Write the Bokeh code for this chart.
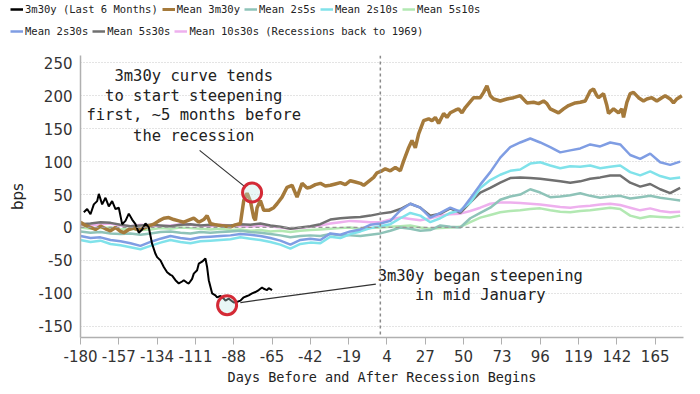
from bokeh.plotting import figure
from bokeh.models import Range1d, Span, Legend, LegendItem, FixedTicker
from bokeh.embed import file_html
from bokeh.resources import INLINE
from bokeh.core.properties import value

# ---------------- data ----------------
black_days = [-178, -176, -174, -172, -170, -169, -167, -165, -163, -161, -159, -157, -155, -153, -151,
              -149, -147, -145, -143, -141, -139, -137, -135, -134, -132, -130, -128, -126, -125, -123,
              -121, -119, -118, -116, -115, -113, -112, -110, -109, -107, -105, -104, -103, -101, -99,
              -98, -96, -94, -93, -91, -90, -88, -86, -84, -82, -80, -79, -77, -75, -73, -71, -70, -68,
              -67, -65]
black_vals = [23, 28, 20, 35, 40, 51, 35, 45, 32, 40, 28, 30, 5, 10, 21,
              12, 5, -8, -3, 6, 0, -25, -40, -45, -50, -60, -68, -72, -73, -80,
              -85, -82, -80, -84, -85, -78, -70, -65, -55, -52, -47, -60, -80, -100, -103,
              -106, -104, -108, -111, -108, -110, -114, -113, -111, -106, -104, -103, -100, -98, -95, -91, -93, -95,
              -92, -95]

brown_days = [-180, -177, -174, -171, -168, -165, -162, -159, -156, -154, -151, -148, -145, -142, -139,
              -136, -133, -130, -127, -124, -121, -118, -115, -112, -109, -106, -104, -102, -99, -96,
              -93, -90, -87, -84, -82, -80, -78, -76, -75, -74, -72, -70, -67, -64, -62, -59, -56, -53,
              -50, -47, -44, -42, -39, -36, -33, -30, -27, -24, -21, -18, -15, -12, -10, -7, -4, -2,
              1, 3, 6, 9, 12, 14, 17, 19, 21, 23, 26, 29, 31, 33, 35, 38, 40, 42, 45, 47, 49, 51, 53,
              56, 60, 62, 64, 66, 68, 72, 76, 80, 84, 88, 92, 95, 98, 100, 102, 107, 110, 113, 117,
              120, 123, 126, 128, 130, 131, 134, 136, 137, 140, 143, 145, 146, 148, 150, 152, 155, 158,
              160, 163, 166, 169, 171, 174, 176, 178, 181]
brown_vals = [8, 3, 0, -3, 2, -2, -5, 0, -6, -8, -3, -1, -4, -1, 2,
              5, 10, 14, 15, 12, 10, 8, 11, 14, 8, 12, 18, 6, 4, 3,
              2, 1, 4, 6, 41, 52, 40, 15, 11, 30, 41, 26, 26, 30, 36, 46, 61, 64,
              46, 67, 60, 61, 65, 67, 63, 64, 66, 68, 65, 71, 69, 67, 64, 70, 76, 83,
              86, 89, 86, 91, 86, 101, 121, 132, 121, 142, 162, 165, 162, 167, 158, 173, 167, 174, 178, 180, 174, 182, 188,
              197, 197, 205, 215, 200, 195, 192, 195, 197, 200, 189, 190, 188, 192, 188, 180, 174, 180, 185, 189,
              190, 192, 207, 210, 200, 197, 203, 185, 173, 180, 174, 180, 167, 190, 203, 205, 197, 192,
              195, 197, 192, 197, 200, 195, 189, 195, 200]

mean_days = [-180, -174, -168, -162, -156, -150, -144, -138, -132, -126, -120, -114, -108, -102, -96,
             -90, -84, -78, -72, -66, -60, -54, -48, -42, -36, -30, -24, -18, -12, -6,
             0, 6, 12, 18, 24, 30, 36, 42, 48, 54, 60, 66, 72, 78, 84,
             90, 96, 102, 108, 114, 120, 126, 132, 138, 144, 150, 156, 162, 168, 174, 180]

mean_2s5s = [-6, -8, -7, -9, -10, -9, -11, -9, -7, -6, -8, -9, -7, -8, -7,
             -6, -5, -7, -8, -10, -12, -15, -13, -12, -13, -10, -12, -12, -13, -11,
             -9, -5, 0, -2, -5, -4, 3, 1, 0, 14, 22, 30, 42, 47, 50,
             58, 53, 46, 47, 49, 52, 48, 45, 47, 48, 44, 46, 48, 45, 43, 41]
mean_2s10s = [-19, -22, -20, -25, -27, -30, -33, -28, -23, -19, -22, -24, -21, -20, -19,
              -18, -15, -17, -19, -22, -26, -32, -25, -23, -24, -14, -16, -10, -6, -1,
              2, 5, 14, 22, 18, 8, 14, 22, 26, 38, 60, 72, 80, 86, 88,
              97, 99, 94, 90, 93, 92, 94, 90, 92, 94, 84, 79, 85, 78, 74, 76]
mean_5s10s = [0, -2, -1, 0, -3, -2, -4, -3, -1, -2, 0, -1, -2, -3, -2,
              -4, -3, -5, -4, -6, -5, -7, -5, -4, -3, -2, -1, 0, -2, -1,
              0, 1, 2, 3, 0, -2, -1, 0, 1, 8, 15, 19, 23, 25, 26,
              28, 29, 26, 24, 23, 25, 26, 28, 30, 28, 18, 14, 17, 16, 15, 18]
mean_2s30s = [-13, -16, -15, -19, -21, -24, -28, -22, -17, -13, -16, -18, -15, -14, -13,
              -12, -10, -11, -13, -16, -20, -26, -19, -17, -19, -9, -11, -6, -3, 4,
              6, 10, 26, 36, 30, 15, 22, 30, 24, 44, 65, 84, 106, 122, 129,
              135, 129, 122, 114, 117, 120, 126, 123, 129, 126, 110, 104, 112, 99, 95, 100]
mean_5s30s = [5, 6, 8, 7, 4, 2, 3, 4, 3, 2, 4, 5, 3, 4, 3,
              3, 5, 4, 6, 3, 1, -2, 0, 2, 5, 12, 14, 15, 16, 18,
              21, 23, 28, 36, 30, 18, 21, 29, 22, 38, 53, 60, 68, 75, 76,
              75, 74, 72, 70, 68, 70, 74, 76, 79, 79, 68, 62, 66, 58, 52, 60]
mean_10s30s = [4, 3, 5, 6, 3, 2, 4, 3, 2, 3, 5, 4, 3, 2, 4,
               3, 2, 1, 3, 2, 0, -2, -1, 1, 3, 6, 8, 10, 9, 8,
               8, 12, 15, 13, 11, 14, 18, 20, 21, 25, 30, 36, 38, 38, 37,
               36, 35, 33, 31, 30, 32, 33, 35, 36, 34, 30, 26, 29, 25, 23, 24]

legend_row1 = ["3m30y (Last 6 Months)", "Mean 3m30y", "Mean 2s5s", "Mean 2s10s", "Mean 5s10s"]
legend_row2 = ["Mean 2s30s", "Mean 5s30s", "Mean 10s30s (Recessions back to 1969)"]

x_ticks = [-180, -157, -134, -111, -88, -65, -42, -19, 4, 27, 50, 73, 96, 119, 142, 165]
y_ticks = [-150, -100, -50, 0, 50, 100, 150, 200, 250]

recession_day = 0
circle_days = [-77, -92]
circle_vals = [53, -118]

note1_lines = ["3m30y curve tends", "to start steepening", "first, ~5 months before", "the recession"]
note1_x = -112
note1_y = [230, 200, 171, 139]
note1_arrow = [(-108.5, 117), (-81.4, 62)]

note2_lines = ["3m30y began steepening", "in mid January"]
note2_x = 60
note2_y = [-73, -103]
note2_arrow = [(-84, -114), (-2.7, -86)]

# ---------------- styles ----------------
COL_BLACK = "#000000"
COL_BROWN = "#a57a3b"
COL_2S5S = "#8ec3b8"
COL_2S10S = "#80e2ea"
COL_5S10S = "#b2e8b2"
COL_2S30S = "#7f9de3"
COL_5S30S = "#707070"
COL_10S30S = "#eeb0ee"

W = 700
LEG_H = 44
MAIN_H = 394 - LEG_H

# ---------------- legend strip (separate root, full-width frame) ----------------
lp = figure(width=W, height=LEG_H, output_backend="svg", toolbar_location=None,
            x_axis_location=None, y_axis_location=None,
            min_border=0, min_border_left=0, min_border_right=0, min_border_top=0, min_border_bottom=0,
            x_range=Range1d(0, 1), y_range=Range1d(0, 1))
lp.outline_line_color = None
lp.grid.grid_line_color = None

def proxy(color, width):
    # off-range single point: only its legend swatch is visible
    return lp.line([-1], [-1], line_color=color, line_width=width)

row1_proxies = [proxy(COL_BLACK, 2.5), proxy(COL_BROWN, 3), proxy(COL_2S5S, 2.5),
                proxy(COL_2S10S, 2.5), proxy(COL_5S10S, 2.5)]
row2_proxies = [proxy(COL_2S30S, 2.5), proxy(COL_5S30S, 2.5), proxy(COL_10S30S, 2.5)]

def make_legend(labels, renderers, loc):
    lg = Legend(items=[LegendItem(label=l, renderers=[r]) for l, r in zip(labels, renderers)],
                orientation="horizontal", location=loc)
    lg.label_text_font = "DejaVu Sans Mono"
    lg.label_text_font_size = "10.5px"
    lg.label_text_color = "#222222"
    lg.glyph_width = 13
    lg.glyph_height = 14
    lg.label_height = 14
    lg.label_standoff = 2
    lg.spacing = 4
    lg.padding = 0
    lg.margin = 0
    lg.border_line_alpha = 0
    lg.background_fill_alpha = 0
    return lg

# tuple = bottom-left corner of the legend, px from the strip's bottom-left
lp.add_layout(make_legend(legend_row1, row1_proxies, (10, 28)))
lp.add_layout(make_legend(legend_row2, row2_proxies, (10, 6)))

# ---------------- main chart ----------------
p = figure(width=W, height=MAIN_H, output_backend="svg", toolbar_location=None,
           x_range=Range1d(-180, 182), y_range=Range1d(-167, 261),
           min_border_left=80, min_border_right=17, min_border_top=11, min_border_bottom=57)
p.outline_line_color = None
p.background_fill_color = "white"

p.xgrid.grid_line_color = None
p.ygrid.grid_line_color = "#c8c8c8"
p.ygrid.grid_line_dash = "1 2"
p.ygrid.grid_line_width = 1
p.ygrid.ticker = FixedTicker(ticks=[t for t in y_ticks if t != 0])

p.add_layout(Span(location=0, dimension="width", line_color="#999999", line_dash="4 3", line_width=1.3))
p.add_layout(Span(location=recession_day, dimension="height", line_color="#8a8a8a", line_dash="3 3", line_width=1.5))

p.xaxis.ticker = FixedTicker(ticks=x_ticks)
p.yaxis.ticker = FixedTicker(ticks=y_ticks)
p.xaxis.major_label_overrides = {t: str(t) for t in x_ticks}
p.yaxis.major_label_overrides = {t: str(t) for t in y_ticks}
for ax in (p.xaxis, p.yaxis):
    ax.axis_line_color = "#b0b0b0"
    ax.axis_line_width = 1.5
    ax.major_label_text_font = "DejaVu Sans"
    ax.major_label_text_font_size = "15px"
    ax.major_label_text_color = "#333333"
    ax.minor_tick_line_color = None
p.xaxis.major_tick_line_color = "#b0b0b0"
p.xaxis.major_tick_out = 7
p.xaxis.major_tick_in = 0
p.xaxis.major_label_standoff = 5
p.yaxis.major_tick_line_color = None
p.yaxis.major_tick_out = 0
p.yaxis.major_tick_in = 0
p.yaxis.major_label_standoff = 8

p.xaxis.axis_label = "Days Before and After Recession Begins"
p.xaxis.axis_label_text_font = "DejaVu Sans Mono"
p.xaxis.axis_label_text_font_style = "normal"
p.xaxis.axis_label_text_font_size = "13.5px"
p.xaxis.axis_label_text_color = "#222222"
p.xaxis.axis_label_standoff = 4

p.yaxis.axis_label = "bps"
p.yaxis.axis_label_text_font = "DejaVu Sans"
p.yaxis.axis_label_text_font_style = "normal"
p.yaxis.axis_label_text_font_size = "15px"
p.yaxis.axis_label_text_color = "#222222"
p.yaxis.axis_label_standoff = 8

p.line(mean_days, mean_10s30s, line_color=COL_10S30S, line_width=2.5)
p.line(mean_days, mean_5s10s, line_color=COL_5S10S, line_width=2.5)
p.line(mean_days, mean_2s5s, line_color=COL_2S5S, line_width=2.5)
p.line(mean_days, mean_5s30s, line_color=COL_5S30S, line_width=2.5)
p.line(mean_days, mean_2s10s, line_color=COL_2S10S, line_width=2.5)
p.line(mean_days, mean_2s30s, line_color=COL_2S30S, line_width=2.5)
p.line(brown_days, brown_vals, line_color=COL_BROWN, line_width=3.5)
p.line(black_days, black_vals, line_color=COL_BLACK, line_width=2)

p.segment(x0=[note1_arrow[0][0], note2_arrow[0][0]], y0=[note1_arrow[0][1], note2_arrow[0][1]],
          x1=[note1_arrow[1][0], note2_arrow[1][0]], y1=[note1_arrow[1][1], note2_arrow[1][1]],
          line_color="#333333", line_width=1.2)
p.scatter(circle_days, circle_vals, marker="circle", size=19, fill_color="#bfe8e6", fill_alpha=0.35,
          line_color="#d42a36", line_width=3)

p.text(x=[note1_x] * len(note1_lines), y=note1_y, text=note1_lines,
       text_font=value("DejaVu Sans Mono"), text_font_size="15.5px", text_color="#222222",
       text_align="center", text_baseline="middle")
p.text(x=[note2_x] * len(note2_lines), y=note2_y, text=note2_lines,
       text_font=value("DejaVu Sans Mono"), text_font_size="15.5px", text_color="#222222",
       text_align="center", text_baseline="middle")

open("out.html", "w").write(file_html([lp, p], INLINE))
